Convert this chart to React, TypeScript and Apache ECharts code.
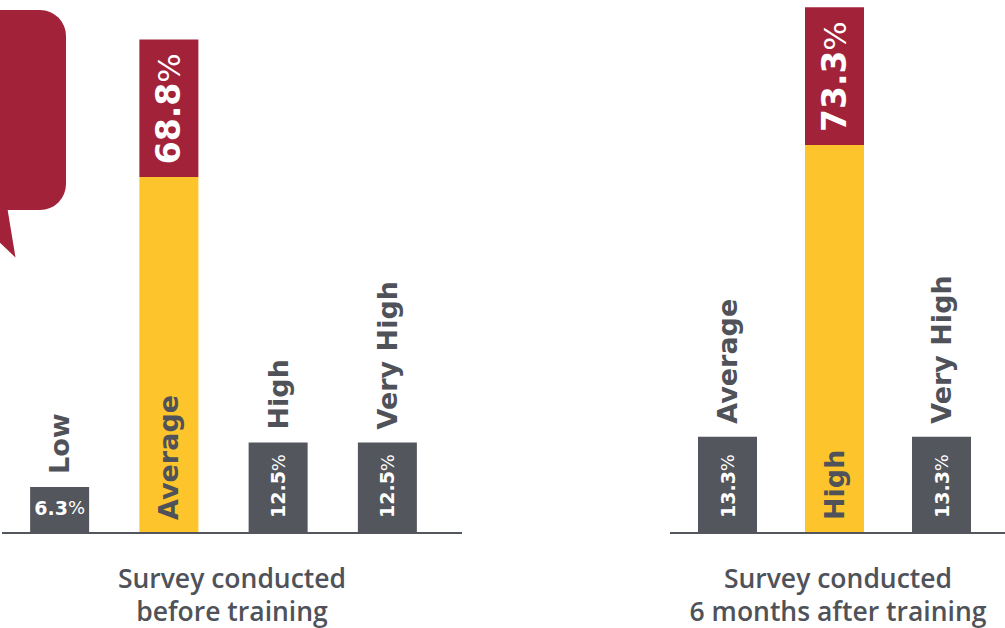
import React, { useEffect, useRef } from 'react';
import * as echarts from 'echarts';

// ---- data ----
const beforeCategories = ['Low', 'Average', 'High', 'Very High'];
const beforeValues = [6.3, 68.8, 12.5, 12.5];
const beforeHighlight = 1;

const afterCategories = ['Average', 'High', 'Very High'];
const afterValues = [13.3, 73.3, 13.3];
const afterHighlight = 1;

const beforeTitleLines = ['Survey conducted', 'before training'];
const afterTitleLines = ['Survey conducted', '6 months after training'];

// ---- style ----
const RED = '#a22239';
const YELLOW = '#fdc52b';
const BAR_GRAY = '#53565c';
const TEXT_GRAY = '#4f5259';
const FONT = '"DejaVu Sans", "Open Sans", sans-serif';
const TITLE_FONT = '"Open Sans", "Noto Sans", sans-serif';
const Y_MAX = 74.3;
const CAP = 19.2; // height of the red cap, in value units

const rich = {
  big: { fontSize: 33, fontWeight: 700, color: '#fff', fontFamily: FONT },
  bigp: { fontSize: 31, fontWeight: 400, color: '#fff', fontFamily: FONT },
  md: { fontSize: 19, fontWeight: 700, color: '#fff', fontFamily: FONT },
  mdp: { fontSize: 18, fontWeight: 400, color: '#fff', fontFamily: FONT },
  sm: { fontSize: 19, fontWeight: 700, color: '#fff', fontFamily: FONT },
  smp: { fontSize: 18, fontWeight: 400, color: '#fff', fontFamily: FONT },
};

function buildSeries(cats: string[], vals: number[], hi: number, idx: number) {
  const barData = vals.map((v, i) => {
    if (i === hi) {
      const f = Math.min(1, CAP / v);
      return {
        value: v,
        itemStyle: {
          color: new echarts.graphic.LinearGradient(0, 0, 0, 1, [
            { offset: 0, color: RED },
            { offset: f, color: RED },
            { offset: f, color: YELLOW },
            { offset: 1, color: YELLOW },
          ]),
        },
        label: {
          show: true,
          position: 'insideTop',
          distance: 14,
          rotate: 90,
          align: 'right',
          verticalAlign: 'middle',
          formatter: `{big|${v.toFixed(1)}}{bigp|%}`,
          rich,
        },
      };
    }
    if (v < 10) {
      return {
        value: v,
        label: {
          show: true,
          position: 'insideBottom',
          distance: 15,
          rotate: 0,
          formatter: `{sm|${v.toFixed(1)}}{smp|%}`,
          rich,
        },
      };
    }
    return {
      value: v,
      label: {
        show: true,
        position: 'insideBottom',
        distance: 14,
        rotate: 90,
        align: 'left',
        verticalAlign: 'middle',
        formatter: `{md|${v.toFixed(1)}}{mdp|%}`,
        rich,
      },
    };
  });

  const catData = vals.map((v, i) => ({
    value: v,
    label:
      i === hi
        ? { position: 'insideBottom', distance: 12, rotate: 90, align: 'left', verticalAlign: 'middle' }
        : { position: 'top', distance: 13, rotate: 90, align: 'left', verticalAlign: 'middle' },
  }));

  return [
    {
      type: 'bar',
      xAxisIndex: idx,
      yAxisIndex: idx,
      barWidth: 59,
      barGap: '-100%',
      itemStyle: { color: BAR_GRAY },
      data: barData,
      silent: true,
    },
    {
      type: 'bar',
      xAxisIndex: idx,
      yAxisIndex: idx,
      barWidth: 59,
      barGap: '-100%',
      itemStyle: { color: 'rgba(0,0,0,0)' },
      label: {
        show: true,
        color: TEXT_GRAY,
        fontFamily: FONT,
        fontSize: 27,
        fontWeight: 700,
        formatter: (p: any) => cats[p.dataIndex],
      },
      data: catData,
      silent: true,
    },
  ];
}

function titleTexts(lines: string[], cx: number) {
  return lines.map((t, i) => ({
    type: 'text',
    x: cx,
    y: 564 + i * 33,
    silent: true,
    style: {
      text: t,
      align: 'center',
      verticalAlign: 'top',
      fill: TEXT_GRAY,
      fontFamily: TITLE_FONT,
      fontSize: 26.5,
      fontWeight: 600,
    },
  }));
}

export default function App() {
  const ref = useRef<HTMLDivElement>(null);

  useEffect(() => {
    if (!ref.current) return;
    const chart = echarts.init(ref.current, undefined, { renderer: 'svg' });
    const option: any = {
      animation: false,
      backgroundColor: '#ffffff',
      grid: [
        { left: 5, width: 437, top: 0, height: 532 },
        { left: 674, width: 321, top: 0, height: 532 },
      ],
      xAxis: [
        { type: 'category', gridIndex: 0, data: beforeCategories, axisLine: { show: false }, axisTick: { show: false }, axisLabel: { show: false } },
        { type: 'category', gridIndex: 1, data: afterCategories, axisLine: { show: false }, axisTick: { show: false }, axisLabel: { show: false } },
      ],
      yAxis: [
        { type: 'value', gridIndex: 0, min: 0, max: Y_MAX, show: false },
        { type: 'value', gridIndex: 1, min: 0, max: Y_MAX, show: false },
      ],
      series: [
        ...buildSeries(beforeCategories, beforeValues, beforeHighlight, 0),
        ...buildSeries(afterCategories, afterValues, afterHighlight, 1),
      ],
      graphic: [
        // speech bubble
        { type: 'rect', shape: { x: -100, y: 10, width: 166, height: 200, r: 26 }, style: { fill: RED }, silent: true },
        { type: 'polygon', shape: { points: [[-20, 200], [6, 200], [15.5, 257.5], [-20, 224]] }, style: { fill: RED }, silent: true },
        // baselines
        { type: 'line', shape: { x1: 2, y1: 533, x2: 462, y2: 533 }, style: { stroke: BAR_GRAY, lineWidth: 2 }, silent: true },
        { type: 'line', shape: { x1: 670, y1: 533, x2: 1005, y2: 533 }, style: { stroke: BAR_GRAY, lineWidth: 2 }, silent: true },
        // panel titles
        ...titleTexts(beforeTitleLines, 232),
        ...titleTexts(afterTitleLines, 838),
      ],
    };
    chart.setOption(option);
    return () => chart.dispose();
  }, []);

  return (
    <div
      ref={ref}
      style={{ position: 'fixed', left: 0, top: 0, width: 1005, height: 628, background: '#fff' }}
    />
  );
}
